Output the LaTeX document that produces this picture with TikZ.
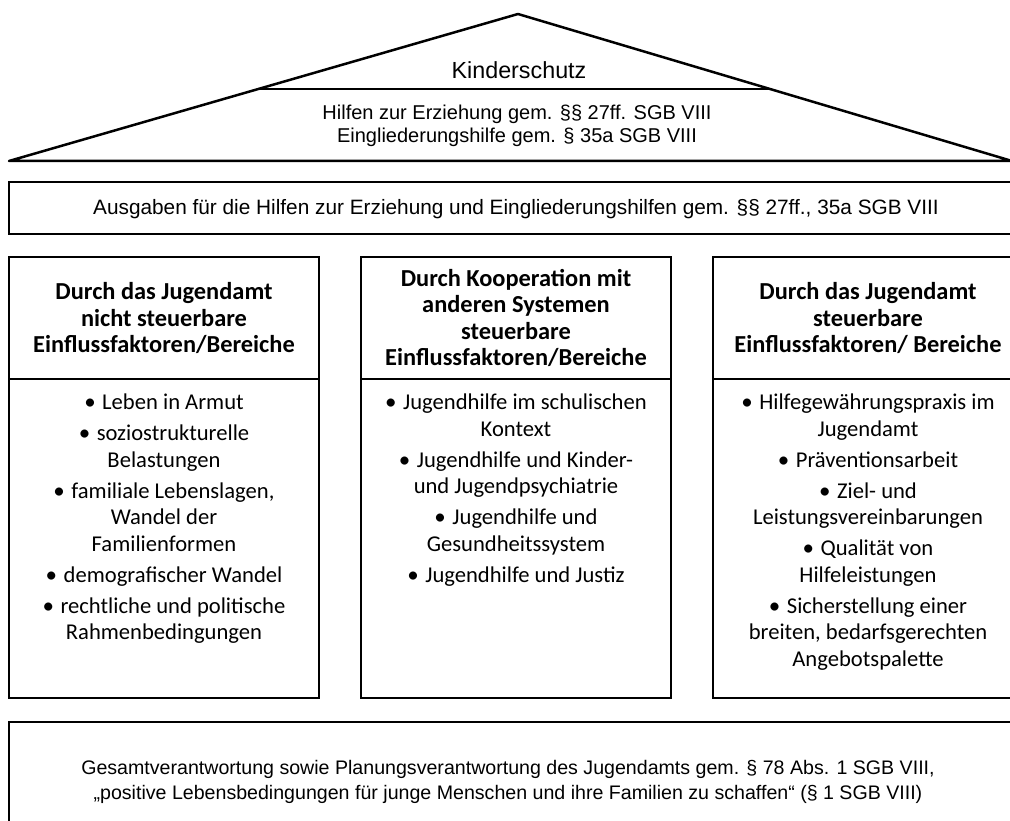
\documentclass[tikz,border=0pt]{standalone}
\usepackage{fontspec}
\setmainfont{Carlito}
\newfontfamily\arialf{Liberation Sans}
\newcommand\bult{{\fontsize{23}{23}\selectfont •}\hskip 6.5pt}
\usetikzlibrary{calc}
\begin{document}
\begin{tikzpicture}[x=1pt,y=-1pt,
  frame/.style={draw=black,line width=2.5pt},
  pillarhead/.style={frame,minimum width=310pt,minimum height=122pt,inner sep=0pt,align=center,font=\bfseries\fontsize{24.4}{26.3}\selectfont},
  pillarbody/.style={frame,minimum width=310pt,minimum height=319pt,inner sep=0pt},
  bodytext/.style={anchor=north,inner sep=0pt,align=center,font=\fontsize{22.6}{26.5}\selectfont},
  arialtext/.style={inner sep=0pt,align=center,font=\arialf\fontsize{20}{22.5}\selectfont},
  widebox/.style={frame,minimum width=1021pt,inner sep=0pt},
]
\useasboundingbox (0,0) rectangle (1010,821);
\clip (0,0) rectangle (1010,821);
\fill[white] (0,0) rectangle (1010,821);

% roof
\coordinate (roofL) at (9,161);
\coordinate (roofA) at (518,14);
\coordinate (roofR) at (1012,161);
\draw[frame,line join=round] (roofL) -- (roofA) -- (roofR) -- cycle;
\coordinate (barL) at ($(roofL)!0.49!(roofA)$);
\coordinate (barR) at ($(roofR)!0.49!(roofA)$);
\draw[frame] (barL) -- (barR);
\node[arialtext,font=\arialf\fontsize{23.3}{24}\selectfont] (kinder) at (519,70) {Kinderschutz};
\node[arialtext] (hilfen) at (517,126) {Hilfen zur Erziehung gem. §§ 27ff. SGB VIII\\Eingliederungshilfe gem. § 35a SGB VIII};

% Ausgaben bar
\node[widebox,minimum height=52pt] (ausgabenbox) at (519.5,208) {};
\node[arialtext,font=\arialf\fontsize{20.8}{24}\selectfont] (ausgaben) at (516,209) {Ausgaben für die Hilfen zur Erziehung und Eingliederungshilfen gem. §§ 27ff., 35a SGB VIII};

% pillars
\node[pillarhead] (h1) at (164,318) {Durch das Jugendamt\\nicht steuerbare\\Einflussfaktoren/Bereiche};
\node[pillarbody] (b1) at (164,538.5) {};
\node[bodytext] (t1) at ($(b1.north)+(0,16)$) {\bult Leben in Armut\\[4.5pt]
\bult soziostrukturelle\\Belastungen\\[4.5pt]
\bult familiale Lebenslagen,\\Wandel der\\Familienformen\\[4.5pt]
\bult demografischer Wandel\\[4.5pt]
\bult rechtliche und politische\\Rahmenbedingungen};

\node[pillarhead] (h2) at (516,318) {Durch Kooperation mit\\anderen Systemen\\steuerbare\\Einflussfaktoren/Bereiche};
\node[pillarbody] (b2) at (516,538.5) {};
\node[bodytext] (t2) at ($(b2.north)+(0,16)$) {\bult Jugendhilfe im schulischen\\Kontext\\[4.5pt]
\bult Jugendhilfe und Kinder-\\und Jugendpsychiatrie\\[4.5pt]
\bult Jugendhilfe und\\Gesundheitssystem\\[4.5pt]
\bult Jugendhilfe und Justiz};

\node[pillarhead] (h3) at (868,318) {Durch das Jugendamt\\steuerbare\\Einflussfaktoren/ Bereiche};
\node[pillarbody] (b3) at (868,538.5) {};
\node[bodytext] (t3) at ($(b3.north)+(0,16)$) {\bult Hilfegewährungspraxis im\\Jugendamt\\[4.5pt]
\bult Präventionsarbeit\\[4.5pt]
\bult Ziel- und\\Leistungsvereinbarungen\\[4.5pt]
\bult Qualität von\\Hilfeleistungen\\[4.5pt]
\bult Sicherstellung einer\\breiten, bedarfsgerechten\\Angebotspalette};

% bottom
\node[widebox,minimum height=138pt] (basebox) at (519.5,791) {};
\node[arialtext,font=\arialf\fontsize{19.6}{24.5}\selectfont] (basis) at (508,782) {Gesamtverantwortung sowie Planungsverantwortung des Jugendamts gem. § 78 Abs. 1 SGB VIII,\\„positive Lebensbedingungen für junge Menschen und ihre Familien zu schaffen“ (§ 1 SGB VIII)};
\end{tikzpicture}
\end{document}
